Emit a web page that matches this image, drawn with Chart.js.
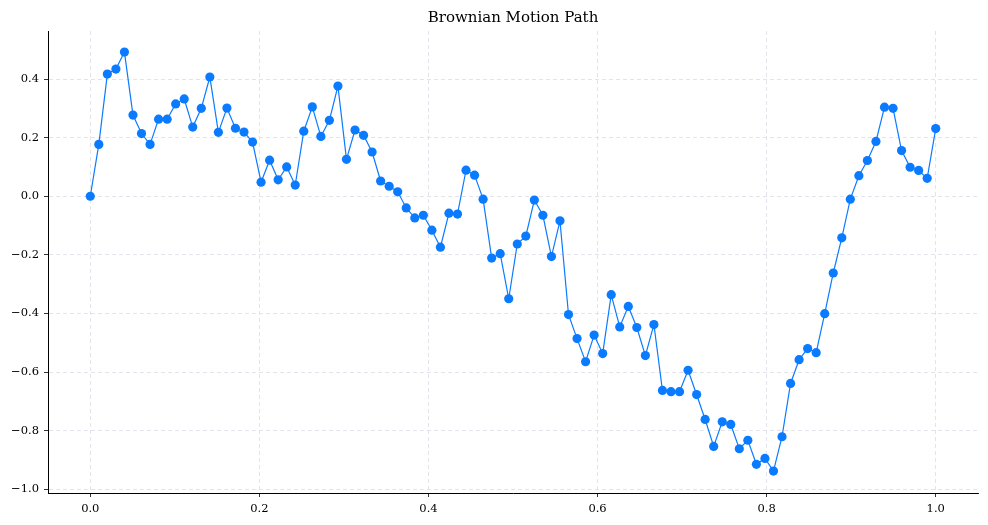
<!DOCTYPE html>
<html>
<head>
<meta charset="utf-8">
<script src="https://cdn.jsdelivr.net/npm/chart.js@4.4.1/dist/chart.umd.min.js"></script>
<style>
  html, body { margin: 0; padding: 0; background: #fff; }
  #wrap { width: 988px; height: 525px; }
</style>
</head>
<body>
<div id="wrap"><canvas id="pathChart" width="988" height="525"></canvas></div>
<script>
/* ===== DATA ===== */
const chartTitle = 'Brownian Motion Path';

// position of the path (100 samples on [0, 1])
const pathValues = [
  0.000, 0.177, 0.417, 0.434, 0.492, 0.277, 0.214, 0.177, 0.263, 0.263,
  0.315, 0.332, 0.236, 0.300, 0.407, 0.218, 0.301, 0.232, 0.219, 0.185,
  0.048, 0.123, 0.056, 0.100, 0.038, 0.222, 0.305, 0.204, 0.259, 0.376,
  0.126, 0.226, 0.208, 0.151, 0.052, 0.034, 0.015, -0.040, -0.074, -0.065,
  -0.116, -0.174, -0.058, -0.061, 0.089, 0.072, -0.010, -0.211, -0.196, -0.350,
  -0.163, -0.136, -0.013, -0.065, -0.206, -0.084, -0.404, -0.486, -0.565, -0.474,
  -0.537, -0.336, -0.446, -0.376, -0.448, -0.544, -0.438, -0.663, -0.667, -0.667,
  -0.594, -0.677, -0.762, -0.854, -0.770, -0.779, -0.862, -0.833, -0.915, -0.895,
  -0.938, -0.821, -0.639, -0.558, -0.520, -0.534, -0.401, -0.262, -0.142, -0.010,
  0.070, 0.122, 0.187, 0.304, 0.300, 0.156, 0.099, 0.088, 0.061, 0.231
];

const xTicks = [0.0, 0.2, 0.4, 0.6, 0.8, 1.0];
const yTicks = [-1.0, -0.8, -0.6, -0.4, -0.2, 0.0, 0.2, 0.4];

// sample times: evenly spaced from 0 to 1
const times = pathValues.map((_, i) => i / (pathValues.length - 1));

/* ===== CHART ===== */
const lineColor = '#0a7bff';
const gridColor = '#dcdde6';
const fontFamily = '"DejaVu Serif", "Liberation Serif", serif';

const fmt = v => v.toFixed(1).replace('-', '\u2212');

new Chart(document.getElementById('pathChart').getContext('2d'), {
    type: 'line',
    data: {
        datasets: [{
            data: times.map((t, i) => ({ x: t, y: pathValues[i] })),
            borderColor: lineColor,
            backgroundColor: lineColor,
            borderWidth: 1.2,
            pointRadius: 4.6,
            pointBorderWidth: 0,
            pointBackgroundColor: lineColor,
            tension: 0,
            fill: false
        }]
    },
    options: {
        responsive: false,
        animation: false,
        layout: { padding: { left: 0, right: 10, top: 0, bottom: 0 } },
        plugins: {
            legend: { display: false },
            tooltip: { enabled: false },
            title: {
                display: true,
                fullSize: false,
                text: chartTitle,
                color: '#000',
                font: { family: fontFamily, size: 15, weight: 'normal' },
                padding: { top: 9, bottom: 4 }
            }
        },
        scales: {
            x: {
                type: 'linear',
                min: -0.05,
                max: 1.05,
                afterBuildTicks: s => { s.ticks = xTicks.map(v => ({ value: v })); },
                afterFit: s => { s.height = 32; },
                grid: {
                    color: gridColor,
                    lineWidth: 0.8,
                    tickColor: '#000',
                    tickLength: 4,
                    tickWidth: 0.8
                },
                border: { display: true, color: '#000', width: 1, dash: [4, 3] },
                ticks: {
                    color: '#000',
                    padding: 5,
                    maxRotation: 0,
                    font: { family: fontFamily, size: 11.5 },
                    callback: v => fmt(v)
                }
            },
            y: {
                type: 'linear',
                min: -1.013,
                max: 0.564,
                afterBuildTicks: s => { s.ticks = yTicks.map(v => ({ value: v })); },
                afterFit: s => { s.width = 48; },
                grid: {
                    color: gridColor,
                    lineWidth: 0.8,
                    tickColor: '#000',
                    tickLength: 4,
                    tickWidth: 0.8
                },
                border: { display: true, color: '#000', width: 1, dash: [4, 3] },
                ticks: {
                    color: '#000',
                    padding: 5,
                    font: { family: fontFamily, size: 11.5 },
                    callback: v => fmt(v)
                }
            }
        }
    }
});
</script>
</body>
</html>
